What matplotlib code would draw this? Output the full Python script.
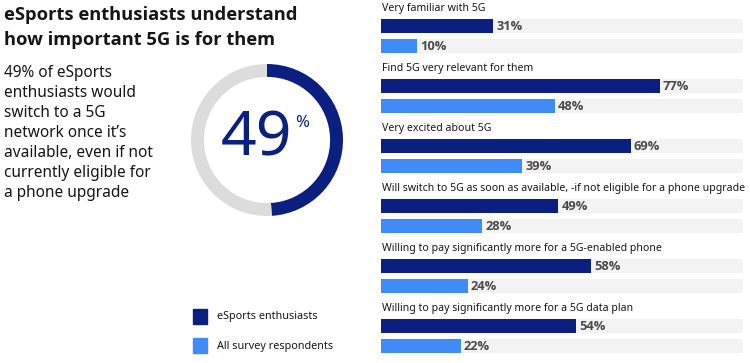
import matplotlib.pyplot as plt

plt.rcParams['font.family'] = ['Noto Sans', 'DejaVu Sans']
BOLD = ['Open Sans', 'DejaVu Sans']

categories = [
    "Very familiar with 5G",
    "Find 5G very relevant for them",
    "Very excited about 5G",
    "Will switch to 5G as soon as available, -if not eligible for a phone upgrade",
    "Willing to pay significantly more for a 5G-enabled phone",
    "Willing to pay significantly more for a 5G data plan",
]
esports = [31, 77, 69, 49, 58, 54]
all_resp = [10, 48, 39, 28, 24, 22]
series_names = ["eSports enthusiasts", "All survey respondents"]
donut_value = 49

DARK = "#0b1f80"
LIGHT = "#418bf8"
TRACK = "#f3f3f3"
RING = "#dcdcdc"
TXT = "#161616"

W, H = 750, 363
fig = plt.figure(figsize=(W / 100, H / 100), dpi=100)

# full-figure overlay in pixel units for free text
ov = fig.add_axes([0, 0, 1, 1])
ov.set_xlim(0, W)
ov.set_ylim(H, 0)
ov.axis("off")

ov.text(4, 15, "eSports enthusiasts understand", fontsize=13.2, fontweight="bold",
        family=BOLD, color=TXT, va="center")
ov.text(4, 40, "how important 5G is for them", fontsize=13.2, fontweight="bold",
        family=BOLD, color=TXT, va="center")
body = ["49% of eSports", "enthusiasts would", "switch to a 5G", "network once it\u2019s",
        "available, even if not", "currently eligible for", "a phone upgrade"]
for i, line in enumerate(body):
    ov.text(4, 73 + 20 * i, line, fontsize=11.1, color=TXT, va="center")

# legend
for i, (name, col) in enumerate(zip(series_names, [DARK, LIGHT])):
    y = 317 + 29 * i
    ov.add_patch(plt.Rectangle((193, y - 8), 14, 15, color=col))
    ov.text(217, y, name, fontsize=7.8, color=TXT, va="center")

# donut
cx, cy, r = 267, 140, 76
dax = fig.add_axes([(cx - r) / W, 1 - (cy + r) / H, 2 * r / W, 2 * r / H])
dax.pie([donut_value, 100 - donut_value], colors=[DARK, RING], startangle=90,
        counterclock=False, wedgeprops=dict(width=0.17, linewidth=0))
dax.set_xlim(-1, 1)
dax.set_ylim(-1, 1)
dax.set_aspect("auto")
ov.text(256, 140, f"{donut_value}", fontsize=45, color=DARK, ha="center", va="center",
        fontweight="light")
ov.text(302, 123, "%", fontsize=12, color=DARK, ha="center", va="center")

# bars
bx0, bx1 = 381, 743
ax = fig.add_axes([bx0 / W, 0, (bx1 - bx0) / W, 1])
ax.set_xlim(0, 100)
ax.set_ylim(H, 0)
ax.axis("off")
for i, cat in enumerate(categories):
    base = 60 * i
    ax.text(0.3, base + 9, cat, fontsize=7.6, color=TXT, va="center")
    for v, yc, col in [(esports[i], base + 26, DARK), (all_resp[i], base + 46, LIGHT)]:
        ax.barh(yc, 100, height=14, color=TRACK)
        ax.barh(yc, v, height=14, color=col)
        ax.text(v + 0.8, yc + 1, f"{v}%", fontsize=9.3, fontweight="bold",
                family=BOLD, color="#4a4a4a", va="center")

fig.savefig("out.png", dpi=100)
